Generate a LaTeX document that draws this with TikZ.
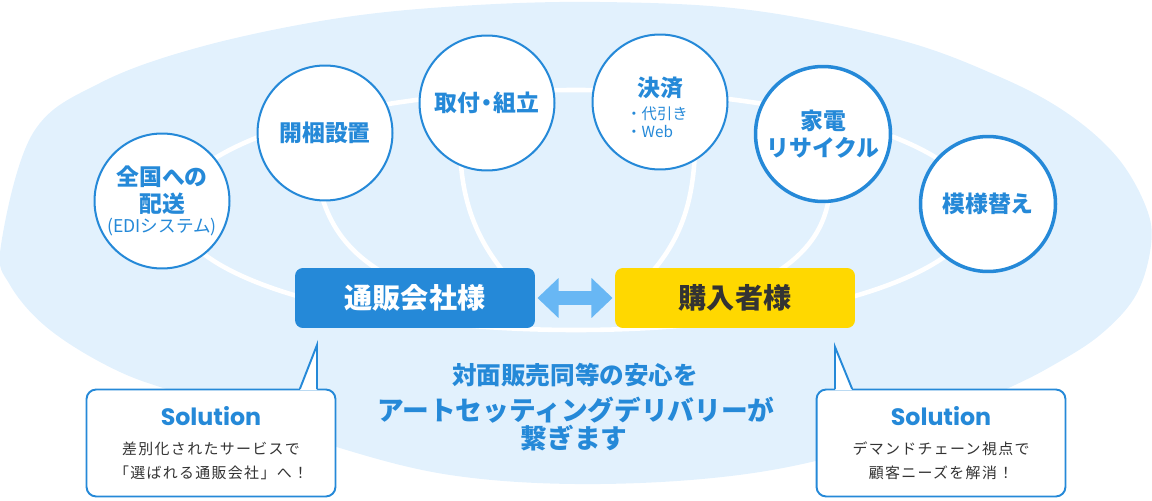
\documentclass[tikz,border=0pt]{standalone}
\usepackage{fontspec}
\setmainfont{Noto Sans CJK JP}
\newfontfamily\popfont{Poppins}
\newfontfamily\spacedfont[LetterSpace=9]{Noto Sans CJK JP}
\usetikzlibrary{arrows.meta}

\definecolor{bgblue}{HTML}{E2F1FD}
\definecolor{mainblue}{HTML}{2589D8}
\definecolor{arrowblue}{HTML}{68B7F4}
\definecolor{buyeryellow}{HTML}{FFD800}
\definecolor{inkgray}{HTML}{333333}

\tikzset{
  svc/.style={circle,draw=mainblue,line width=1.15pt,fill=white,minimum size=2.7cm,inner sep=0pt,
    align=center,text=mainblue,font=\fontsize{13}{15.3}\selectfont\bfseries},
  svcthick/.style={svc,line width=2pt},
  party/.style={rounded corners=4.5pt,minimum width=4.8cm,minimum height=1.2cm,inner sep=0pt,
    font=\fontsize{16}{18}\selectfont\bfseries},
  ring/.style={white,line width=2.6pt},
  note/.style={draw=mainblue,line width=1.1pt,fill=white,rounded corners=5.5pt,minimum width=4.98cm,
    minimum height=2.14cm,align=center,text=inkgray,font=\spacedfont\fontsize{8.5}{13.6}\selectfont},
  msg/.style={text=mainblue,font=\bfseries,inner sep=0pt}
}
\newcommand{\soltitle}{\textcolor{mainblue}{\popfont\bfseries\fontsize{13.5}{16}\selectfont Solution}}

\begin{document}
\begin{tikzpicture}[x=0.02cm,y=-0.02cm,line cap=round,line join=round]
  \useasboundingbox (0,0) rectangle (1152,500);
  % background
  \fill[bgblue] plot[smooth cycle,tension=0.6] coordinates {
    (1,245) (33,133) (100,83) (200,47) (333,19) (460,6) (600,2) (750,10) (900,40)
    (1000,77) (1067,113) (1117,157) (1146,207) (1151,245) (1136,295) (1100,335)
    (1050,367) (1000,392) (900,437) (760,472) (600,484) (450,475) (320,442)
    (200,400) (120,372) (50,330) (10,285)};
  % white rings
  \draw[ring] (576,210) ellipse[x radius=400,y radius=120];
  \draw[ring] (318,180) .. controls (328,235) and (360,262) .. (400,282);
  \draw[ring] (460,150) .. controls (462,205) and (478,245) .. (515,285);
  \draw[ring] (695,150) .. controls (693,205) and (680,245) .. (640,285);
  \draw[ring] (830,190) .. controls (826,230) and (805,258) .. (760,282);

  % services
  \node[svc] (deliv) at (162,201) {全国への\\配送\\[-3.5pt]{\fontsize{10}{11}\selectfont\mdseries (EDIシステム)}};
  \node[svc] (unpack) at (325,133) {開梱設置};
  \node[svc] (assemble) at (487,103) {取付\kern-0.22em・\kern-0.22em組立};
  \node[svc] (pay) at (660,102) {};
  \node[text=mainblue,font=\fontsize{13}{15}\selectfont\bfseries] (paytitle) at (660,88) {決済};
  \node[text=mainblue,align=left,font=\fontsize{8.7}{10.2}\selectfont] (paysub) at (657,122) {・代引き\\・Web};
  \node[svcthick] (recycle) at (823,134) {家電\\リサイクル};
  \node[svcthick] (relayout) at (988,204) {模様替え};

  % parties
  \node[party,fill=mainblue,text=white] (seller) at (415,298) {通販会社様};
  \node[party,fill=buyeryellow,text=inkgray] (buyer) at (735,298) {購入者様};
  \draw[arrowblue,line width=8pt,line cap=butt,shorten <=1.2pt,shorten >=1.2pt,
    {Triangle[length=12pt,width=22pt]}-{Triangle[length=12pt,width=22pt]}] (seller) -- (buyer);

  % message
  \node[msg,font=\fontsize{14}{16}\selectfont\bfseries] (msgA) at (575,375) {対面販売同等の安心を};
  \node[msg,font=\fontsize{15.2}{17}\selectfont\bfseries] (msgB) at (576,410) {アートセッティングデリバリーが};
  \node[msg,font=\fontsize{15.2}{17}\selectfont\bfseries] (msgC) at (574,438) {繋ぎます};

  % solutions
  \node[note] (solA) at (211,443) {\soltitle\\[3pt]差別化されたサービスで\\「選ばれる通販会社」へ！};
  \node[note] (solB) at (941,443) {\soltitle\\[3pt]デマンドチェーン視点で\\顧客ニーズを解消！};
  \coordinate (tipA) at (317,345);
  \coordinate (tipB) at (835,347);
  \fill[white] ([xshift=-0.34cm,yshift=-0.9pt]tipA |- solA.north) -- (tipA) -- ([yshift=-0.9pt]tipA |- solA.north) -- cycle;
  \draw[mainblue,line width=1.1pt,line join=miter] ([xshift=-0.34cm]tipA |- solA.north) -- (tipA) -- (tipA |- solA.north);
  \fill[white] ([xshift=0.34cm,yshift=-0.9pt]tipB |- solB.north) -- (tipB) -- ([yshift=-0.9pt]tipB |- solB.north) -- cycle;
  \draw[mainblue,line width=1.1pt,line join=miter] ([xshift=0.34cm]tipB |- solB.north) -- (tipB) -- (tipB |- solB.north);
\end{tikzpicture}
\end{document}
